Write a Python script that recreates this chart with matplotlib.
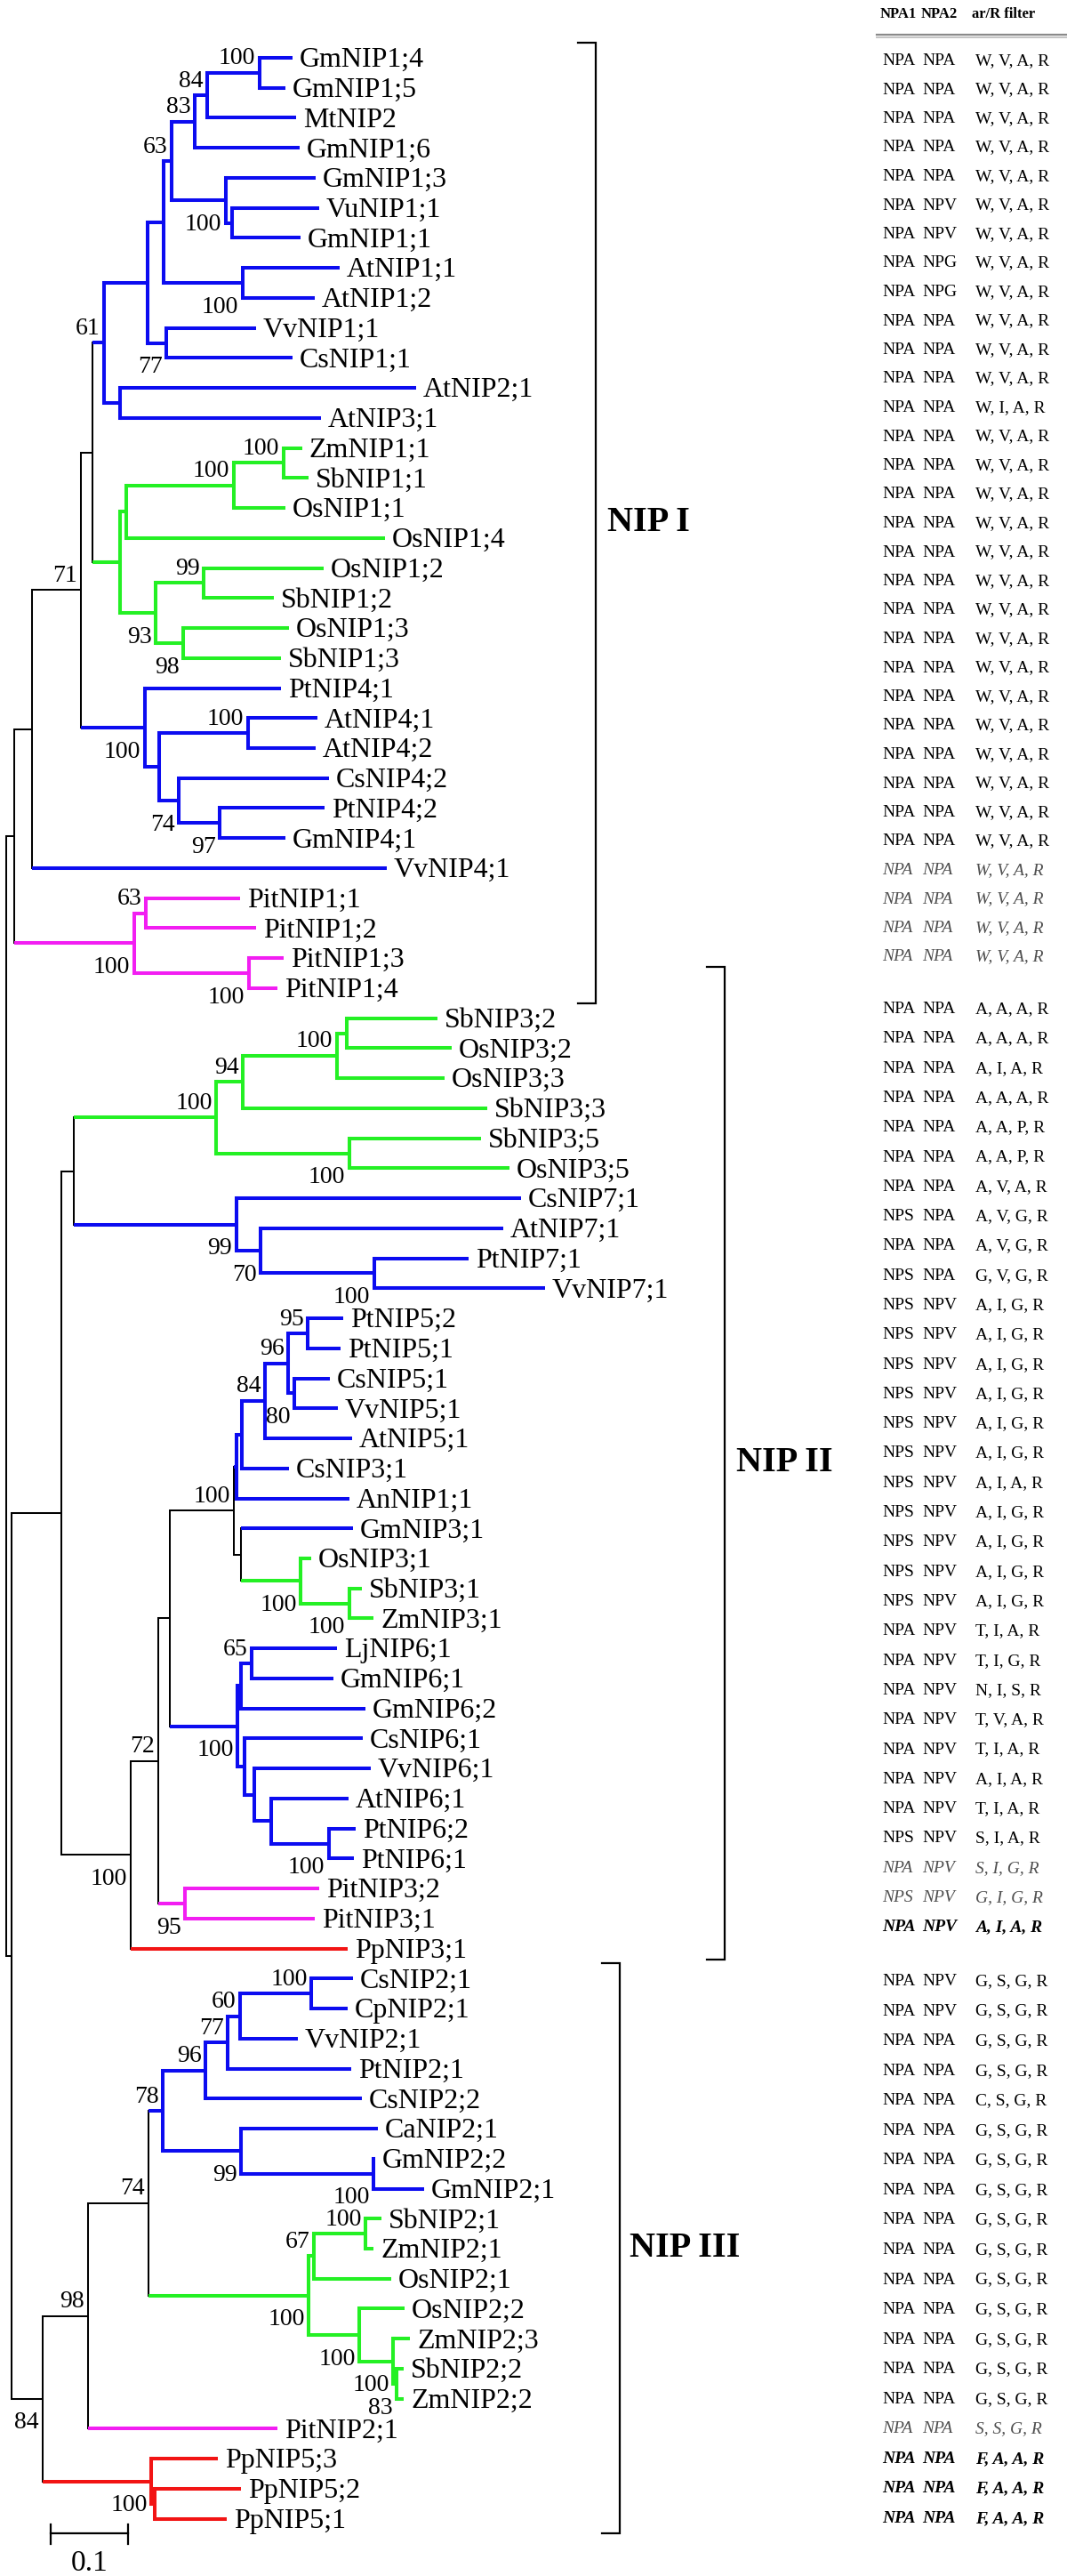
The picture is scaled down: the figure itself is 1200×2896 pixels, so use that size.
import matplotlib
matplotlib.use("Agg")
import matplotlib.pyplot as plt

plt.rcParams["font.family"] = ["Liberation Serif", "DejaVu Serif"]

# trees in Newick form, branch lengths in substitutions per site,
# internal labels = bootstrap value + where it sits (a = above stem, b = below stem)
nip1_tree = """
(((((((((((GmNIP1;4:0.0425,GmNIP1;5:0.0333)100a:0.0678,MtNIP2:0.1149)84a:0.0161,GmNIP1;6:0.1356)83a:0.0299,
(GmNIP1;3:0.1161,(VuNIP1;1:0.1126,GmNIP1;1:0.0885):0.0080)100b:0.0701)63a:0.0103,
(AtNIP1;1:0.1253,AtNIP1;2:0.0931)100b:0.1023):0.0207,(VvNIP1;1:0.1161,CsNIP1;1:0.1632)77b:0.0241):0.0563,
(AtNIP2;1:0.3828,AtNIP3;1:0.2598):0.0207)61a:0.0149,
((((ZmNIP1;1:0.0241,SbNIP1;1:0.0322)100a:0.0644,OsNIP1;1:0.0667)100a:0.1391,OsNIP1;4:0.3345):0.0080,
((OsNIP1;2:0.1552,SbNIP1;2:0.0908)99a:0.0621,(OsNIP1;3:0.1368,SbNIP1;3:0.1264)98b:0.0356)93b:0.0460):0.0356):0.0144,
(PtNIP4;1:0.1759,((AtNIP4;1:0.0897,AtNIP4;2:0.0874)100a:0.1149,
(CsNIP4;2:0.1943,(PtNIP4;2:0.1356,GmNIP4;1:0.0851)97b:0.0529)74b:0.0253):0.0184)100b:0.0822)71a:0.0638,
VvNIP4;1:0.4586):0.0234,
((PitNIP1;1:0.1218,PitNIP1;2:0.1425)63a:0.0149,(PitNIP1;3:0.0448,PitNIP1;4:0.0368)100b:0.1483)100b:0.1556)
"""

nip2_tree = """
((((((SbNIP3;2:0.1172,OsNIP3;2:0.1356):0.0126,OsNIP3;3:0.1391)100a:0.1218,SbNIP3;3:0.3161)94a:0.0345,
(SbNIP3;5:0.1701,OsNIP3;5:0.2069)100b:0.1724)100a:0.1844,
(CsNIP7;1:0.3683,(AtNIP7;1:0.3138,(PtNIP7;1:0.1218,VvNIP7;1:0.2207)100b:0.1471)70b:0.0315)99b:0.2103):0.0156,
(((((((((PtNIP5;2:0.0460,PtNIP5;1:0.0425)95a:0.0253,(CsNIP5;1:0.0460,VvNIP5;1:0.0563)80b:0.0080)96a:0.0299,
AtNIP5;1:0.1126)84a:0.0299,CsNIP3;1:0.0609):0.0063,AnNIP1;1:0.1454):0.0040,
(GmNIP3;1:0.1448,(OsNIP3;1:0.0138,(SbNIP3;1:0.0161,ZmNIP3;1:0.0310)100b:0.0632)100b:0.0770):0.0092)100a:0.0828,
(((LjNIP6;1:0.1103,GmNIP6;1:0.1057)65a:0.0138,GmNIP6;2:0.1609):0.0046,
(CsNIP6;1:0.1529,(VvNIP6;1:0.1506,(AtNIP6;1:0.1000,(PtNIP6;2:0.0345,PtNIP6;1:0.0322)100b:0.0747):0.0218):0.0126):0.0092)100b:0.0874):0.0149,
(PitNIP3;2:0.1736,PitNIP3;1:0.1678)95b:0.0345)72a:0.0356,PpNIP3;1:0.2805)100b:0.0897)
"""

nip3_tree = """
((((((((CsNIP2;1:0.0540,CpNIP2;1:0.0471)100a:0.0920,VvNIP2;1:0.0747)60a:0.0161,PtNIP2;1:0.1598)77a:0.0287,
CsNIP2;2:0.2023)96a:0.0552,(CaNIP2;1:0.1770,(GmNIP2;2:0.0023,GmNIP2;1:0.0655)100b:0.1713)99b:0.1011)78a:0.0184,
(((SbNIP2;1:0.0207,ZmNIP2;1:0.0103)100a:0.0667,OsNIP2;1:0.1000)67a:0.0069,
(OsNIP2;2:0.0586,(ZmNIP2;3:0.0218,(SbNIP2;2:0.0092,ZmNIP2;2:0.0092)83b:0.0046)100b:0.0437)100b:0.0655)100b:0.2069)74a:0.0782,
PitNIP2;1:0.2448)98a:0.0586,
(PpNIP5;3:0.0862,(PpNIP5;2:0.1115,PpNIP5;1:0.0931):0.0046)100b:0.1402)84b
"""

stem_nip1 = 0.0102
stem_nip2 = 0.0649
stem_nip3 = 0.0408
stem_nip23 = 0.0067

groups = ["NIP I", "NIP II", "NIP III"]

# table beside the tree, one row per leaf
npa1 = ("NPA NPA NPA NPA NPA NPA NPA NPA NPA NPA NPA NPA NPA NPA NPA NPA "
        "NPA NPA NPA NPA NPA NPA NPA NPA NPA NPA NPA NPA NPA NPA NPA NPA "
        "NPA NPA NPA NPA NPA NPA NPA NPS NPA NPS NPS NPS NPS NPS NPS NPS "
        "NPS NPS NPS NPS NPS NPA NPA NPA NPA NPA NPA NPA NPS NPA NPS NPA "
        "NPA NPA NPA NPA NPA NPA NPA NPA NPA NPA NPA NPA NPA NPA NPA NPA NPA NPA NPA").split()
npa2 = ("NPA NPA NPA NPA NPA NPV NPV NPG NPG NPA NPA NPA NPA NPA NPA NPA "
        "NPA NPA NPA NPA NPA NPA NPA NPA NPA NPA NPA NPA NPA NPA NPA NPA "
        "NPA NPA NPA NPA NPA NPA NPA NPA NPA NPA NPV NPV NPV NPV NPV NPV "
        "NPV NPV NPV NPV NPV NPV NPV NPV NPV NPV NPV NPV NPV NPV NPV NPV "
        "NPV NPV NPA NPA NPA NPA NPA NPA NPA NPA NPA NPA NPA NPA NPA NPA NPA NPA NPA").split()
ar_r = ("WVAR WVAR WVAR WVAR WVAR WVAR WVAR WVAR WVAR WVAR WVAR WVAR WIAR WVAR WVAR WVAR "
        "WVAR WVAR WVAR WVAR WVAR WVAR WVAR WVAR WVAR WVAR WVAR WVAR WVAR WVAR WVAR WVAR "
        "AAAR AAAR AIAR AAAR AAPR AAPR AVAR AVGR AVGR GVGR AIGR AIGR AIGR AIGR AIGR AIGR "
        "AIAR AIGR AIGR AIGR AIGR TIAR TIGR NISR TVAR TIAR AIAR TIAR SIAR SIGR GIGR AIAR "
        "GSGR GSGR GSGR GSGR CSGR GSGR GSGR GSGR GSGR GSGR GSGR GSGR GSGR GSGR GSGR SSGR FAAR FAAR FAAR").split()


def parse_newick(s):
    s = "".join(s.split())
    pos = 0

    def node():
        nonlocal pos
        n = {"kids": [], "name": "", "len": 0.0}
        if s[pos] == "(":
            pos += 1
            n["kids"].append(node())
            while s[pos] == ",":
                pos += 1
                n["kids"].append(node())
            pos += 1
        start = pos
        while pos < len(s) and s[pos] not in ",():":
            pos += 1
        n["name"] = s[start:pos]
        if pos < len(s) and s[pos] == ":":
            pos += 1
            start = pos
            while pos < len(s) and s[pos] not in ",()":
                pos += 1
            n["len"] = float(s[start:pos])
        return n

    return node()


newick = ("(" + nip1_tree.strip() + ":%g,(" % stem_nip1 + nip2_tree.strip() + ":%g," % stem_nip2
          + nip3_tree.strip() + ":%g):%g)" % (stem_nip3, stem_nip23))
root = parse_newick(newick)

leaves = []


def layout(n, x0):
    n["x"] = x0 + n["len"]
    if not n["kids"]:
        n["y"] = len(leaves)
        leaves.append(n)
    else:
        for k in n["kids"]:
            layout(k, n["x"])
        n["y"] = (n["kids"][0]["y"] + n["kids"][-1]["y"]) / 2


layout(root, 0.0)


def species_group(name):
    if name.startswith("Pit"):
        return "gym"
    if name.startswith("Pp"):
        return "moss"
    if name[:2] in ("Zm", "Sb", "Os"):
        return "mono"
    return "dicot"


def assign(n):
    if not n["kids"]:
        n["grp"] = species_group(n["name"])
    else:
        gs = set(assign(k) for k in n["kids"])
        n["grp"] = gs.pop() if len(gs) == 1 else None
    return n["grp"]


assign(root)

colors = {"dicot": "#0c0cf0", "mono": "#24f024", "gym": "#f21ef2", "moss": "#f21414", None: "black"}

PX_X = 870.0    # pixels per substitution unit
PX_Y = 33.74    # pixels between leaves
X0, Y0 = 6.7, 65.0
W, H = 1200, 2896

fig = plt.figure(figsize=(W / 100, H / 100), dpi=100)
ax = fig.add_axes([0, 0, 1, 1])
ax.set_xlim(-X0 / PX_X, (W - X0) / PX_X)
ax.set_ylim((H - Y0) / PX_Y, -Y0 / PX_Y)
ax.axis("off")


def draw(n, px):
    c = colors[n["grp"]]
    lw = 2.9 if n["grp"] else 1.45
    if px is not None:
        ax.plot([px, n["x"]], [n["y"], n["y"]], color=c, lw=lw, solid_capstyle="butt")
    if n["kids"]:
        ax.plot([n["x"], n["x"]], [n["kids"][0]["y"], n["kids"][-1]["y"]], color=c, lw=lw,
                solid_capstyle="projecting")
        for k in n["kids"]:
            draw(k, n["x"])
        if n["name"]:
            val, where = n["name"][:-1], n["name"][-1]
            ty = n["y"] - 0.28 if where == "a" else n["y"] + 1.0
            ax.text(n["x"] - 4.5 / PX_X, ty, val, ha="right", va="baseline", fontsize=20)
    else:
        ax.text(n["x"] + 8 / PX_X, n["y"] + 0.3, n["name"], ha="left", va="baseline", fontsize=23)


draw(root, None)

# scale bar
sb_x, sb_y = 0.058, 82.48
ax.plot([sb_x, sb_x + 0.1], [sb_y, sb_y], color="black", lw=1.6)
for xx in (sb_x, sb_x + 0.1):
    ax.plot([xx, xx], [sb_y - 0.3, sb_y + 0.35], color="black", lw=1.6)
ax.text(sb_x + 0.05, sb_y + 1.25, "0.1", ha="center", va="baseline", fontsize=24)

# overlay in pixel units for brackets and table
ax2 = fig.add_axes([0, 0, 1, 1], facecolor="none")
ax2.set_xlim(0, W)
ax2.set_ylim(H, 0)
ax2.axis("off")


def leaf_px(i):
    return Y0 + PX_Y * i


group_rows = [(0, 31), (32, 63), (64, 82)]
bracket_x = [670, 815, 697]
bracket_pad = [(17, 17), (58, 12), (17, 16)]
label_x = [683, 828, 708]
for name, (a, b), bx, (pt, pb), lx in zip(groups, group_rows, bracket_x, bracket_pad, label_x):
    top, bot = leaf_px(a) - pt, leaf_px(b) + pb
    ax2.plot([bx - 20, bx, bx, bx - 20], [top, top, bot, bot], color="black", lw=1.6,
             solid_joinstyle="miter")
    ax2.text(lx, (top + bot) / 2, name, ha="left", va="center", fontsize=29, fontweight="bold")

# table header
col_x = [992, 1037, 1097]
for x, t in zip([990, 1036, 1093], ["NPA1", "NPA2", "ar/R filter"]):
    ax2.text(x, 20, t, ha="left", va="baseline", fontsize=12, fontweight="bold")
ax2.plot([986, W], [39, 39], color="#8a8a8a", lw=1.6)
ax2.plot([986, W], [42, 42], color="#c4c4c4", lw=1.4)

row_start = [67, 1133, 2226]
row_step = [32.5, 33.3, 33.55]
row_y = []
for (a, b), s0, st in zip(group_rows, row_start, row_step):
    row_y += [s0 + st * k for k in range(b - a + 1)]

for i, leaf in enumerate(leaves):
    g = leaf["grp"]
    style = dict(fontsize=14, ha="left", va="baseline")
    if g == "gym":
        style.update(color="#505050", fontstyle="italic")
    elif g == "moss":
        style.update(color="black", fontstyle="italic", fontweight="bold")
    yy = row_y[i] + 6
    ax2.text(col_x[0], yy, npa1[i], **style)
    ax2.text(col_x[1], yy, npa2[i], **style)
    ax2.text(col_x[2], yy, ", ".join(ar_r[i]), **style)

fig.savefig("out.png", dpi=100)
